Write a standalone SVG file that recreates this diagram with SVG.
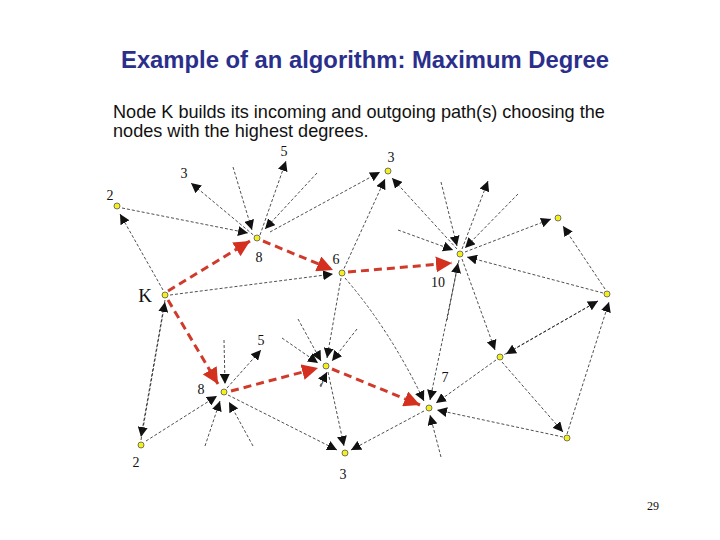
<svg xmlns="http://www.w3.org/2000/svg" width="720" height="540" viewBox="0 0 720 540">
<style>
.t{font-family:"Liberation Sans",Arial,sans-serif}
.s{font-family:"Liberation Serif","Times New Roman",serif;font-size:14px;fill:#111}
.e{stroke:#222;stroke-width:0.8;stroke-dasharray:3 2;fill:none}
.r{stroke:#d03a2a;stroke-width:3;stroke-dasharray:8 5;fill:none}
.n{fill:#f4f020;stroke:#555;stroke-width:0.8}
</style>
<defs>
<marker id="a" viewBox="0 0 10 10" refX="10" refY="5" markerWidth="10" markerHeight="10" markerUnits="userSpaceOnUse" orient="auto"><path d="M0,0L10,5L0,10z" fill="#111"/></marker>
<marker id="ra" viewBox="0 0 10 10" refX="10" refY="5" markerWidth="16" markerHeight="16" markerUnits="userSpaceOnUse" orient="auto"><path d="M0,0L10,5L0,10z" fill="#d43020"/></marker>
</defs>
<rect width="720" height="540" fill="#fff"/>
<text class="t" x="365" y="68" text-anchor="middle" style="font-size:23.8px;font-weight:bold" fill="#2b2f8c">Example of an algorithm: Maximum Degree</text>
<text class="t" x="113" y="118" style="font-size:18.1px" fill="#111">Node K builds its incoming and outgoing path(s) choosing the</text>
<text class="t" x="113" y="137" style="font-size:18.1px" fill="#111">nodes with the highest degrees.</text>
<g id="connectors">
<g marker-end="url(#a)">
<line class="e" x1="257" y1="238" x2="191" y2="183"/>
<line class="e" x1="260" y1="235" x2="286" y2="161"/>
<line class="e" x1="233" y1="167" x2="252" y2="230"/>
<line class="e" x1="317" y1="173" x2="265" y2="229"/>
<line class="e" x1="122" y1="208" x2="248" y2="233"/>
<line class="e" x1="163" y1="290" x2="120" y2="214"/>
<line class="e" x1="170" y1="295" x2="333" y2="274"/>
<line class="e" x1="270" y1="232" x2="380" y2="172"/>
<line class="e" x1="342" y1="273" x2="385" y2="179"/>
<line class="e" x1="457" y1="249" x2="392" y2="178"/>
<line class="e" x1="441" y1="182" x2="457" y2="246"/>
<line class="e" x1="398" y1="230" x2="453" y2="250"/>
<line class="e" x1="518" y1="194" x2="465" y2="248"/>
<line class="e" x1="462" y1="249" x2="488" y2="181"/>
<line class="e" x1="465" y1="252" x2="551" y2="219"/>
<line class="e" x1="603" y1="293" x2="467" y2="257"/>
<line class="e" x1="447" y1="320" x2="458" y2="263"/>
<line class="e" x1="462" y1="259" x2="495" y2="350"/>
<line class="e" x1="605" y1="289" x2="563" y2="226"/>
<line class="e" x1="500" y1="357" x2="598" y2="301"/>
<line class="e" x1="598" y1="301" x2="506" y2="354"/>
<line class="e" x1="567" y1="434" x2="609" y2="302"/>
<line class="e" x1="502" y1="362" x2="563" y2="432"/>
<line class="e" x1="563" y1="437" x2="437" y2="410"/>
<line class="e" x1="496" y1="360" x2="436" y2="403"/>
<path class="e" d="M345,278 Q390,330 424,401"/>
<line class="e" x1="459" y1="260" x2="430" y2="400"/>
<line class="e" x1="441" y1="457" x2="430" y2="415"/>
<line class="e" x1="424" y1="411" x2="351" y2="450"/>
<line class="e" x1="328" y1="372" x2="344" y2="446"/>
<line class="e" x1="228" y1="395" x2="337" y2="450"/>
<line class="e" x1="298" y1="319" x2="321" y2="361"/>
<line class="e" x1="341" y1="278" x2="327" y2="358"/>
<line class="e" x1="357" y1="329" x2="332" y2="361"/>
<line class="e" x1="282" y1="338" x2="318" y2="363"/>
<line class="e" x1="320" y1="386" x2="327" y2="372"/>
<line class="e" x1="224" y1="340" x2="225" y2="384"/>
<line class="e" x1="227" y1="388" x2="261" y2="350"/>
<line class="e" x1="205" y1="446" x2="220" y2="401"/>
<line class="e" x1="253" y1="446" x2="229" y2="402"/>
<line class="e" x1="146" y1="441" x2="217" y2="396"/>
<line class="e" x1="165" y1="300" x2="141" y2="437"/>
<line class="e" x1="141" y1="440" x2="165" y2="302"/>
</g>
<g marker-end="url(#ra)">
<line class="r" x1="168" y1="291" x2="250" y2="241"/>
<line class="r" x1="263" y1="241" x2="333" y2="270"/>
<line class="r" x1="348" y1="272" x2="452" y2="263"/>
<line class="r" x1="168" y1="300" x2="218" y2="384"/>
<line class="r" x1="231" y1="391" x2="318" y2="368"/>
<line class="r" x1="332" y1="369" x2="420" y2="405"/>
</g>
</g>
<g id="nodes">
<g id="n2a"><circle class="n" cx="117" cy="206" r="3"/><text class="s" x="110" y="200" text-anchor="middle">2</text></g>
<g id="n3l"><text class="s" x="184" y="178" text-anchor="middle">3</text></g>
<g id="n5t"><text class="s" x="284" y="156" text-anchor="middle">5</text></g>
<g id="n8a"><circle class="n" cx="257" cy="238" r="3"/><text class="s" x="259" y="262" text-anchor="middle">8</text></g>
<g id="n6"><circle class="n" cx="342" cy="273" r="3"/><text class="s" x="336" y="264" text-anchor="middle">6</text></g>
<g id="n3t"><circle class="n" cx="388" cy="171" r="3"/><text class="s" x="391" y="162" text-anchor="middle">3</text></g>
<g id="n10"><circle class="n" cx="460" cy="254" r="3"/><text class="s" x="438" y="287" text-anchor="middle">10</text></g>
<g id="nr1"><circle class="n" cx="558" cy="218" r="3"/></g>
<g id="nr2"><circle class="n" cx="607" cy="294" r="3"/></g>
<g id="k"><circle class="n" cx="165" cy="295" r="3"/><text class="s" x="145" y="302" text-anchor="middle" style="font-size:19px">K</text></g>
<g id="nm"><circle class="n" cx="500" cy="357" r="3"/></g>
<g id="n7b"><circle class="n" cx="429" cy="408" r="3"/><text class="s" x="445" y="382" text-anchor="middle">7</text></g>
<g id="nbr"><circle class="n" cx="567" cy="438" r="3"/></g>
<g id="n7a"><circle class="n" cx="326" cy="366" r="3"/><text class="s" x="322" y="387" text-anchor="middle">7</text></g>
<g id="n5b"><text class="s" x="261" y="345" text-anchor="middle">5</text></g>
<g id="n8b"><circle class="n" cx="224" cy="392" r="3"/><text class="s" x="201" y="394" text-anchor="middle">8</text></g>
<g id="n2b"><circle class="n" cx="141" cy="445" r="3"/><text class="s" x="136" y="467" text-anchor="middle">2</text></g>
<g id="n3b"><circle class="n" cx="345" cy="453" r="3"/><text class="s" x="343" y="479" text-anchor="middle">3</text></g>
</g>
<text class="s" x="653" y="510" text-anchor="middle" style="font-size:12px">29</text>
</svg>
